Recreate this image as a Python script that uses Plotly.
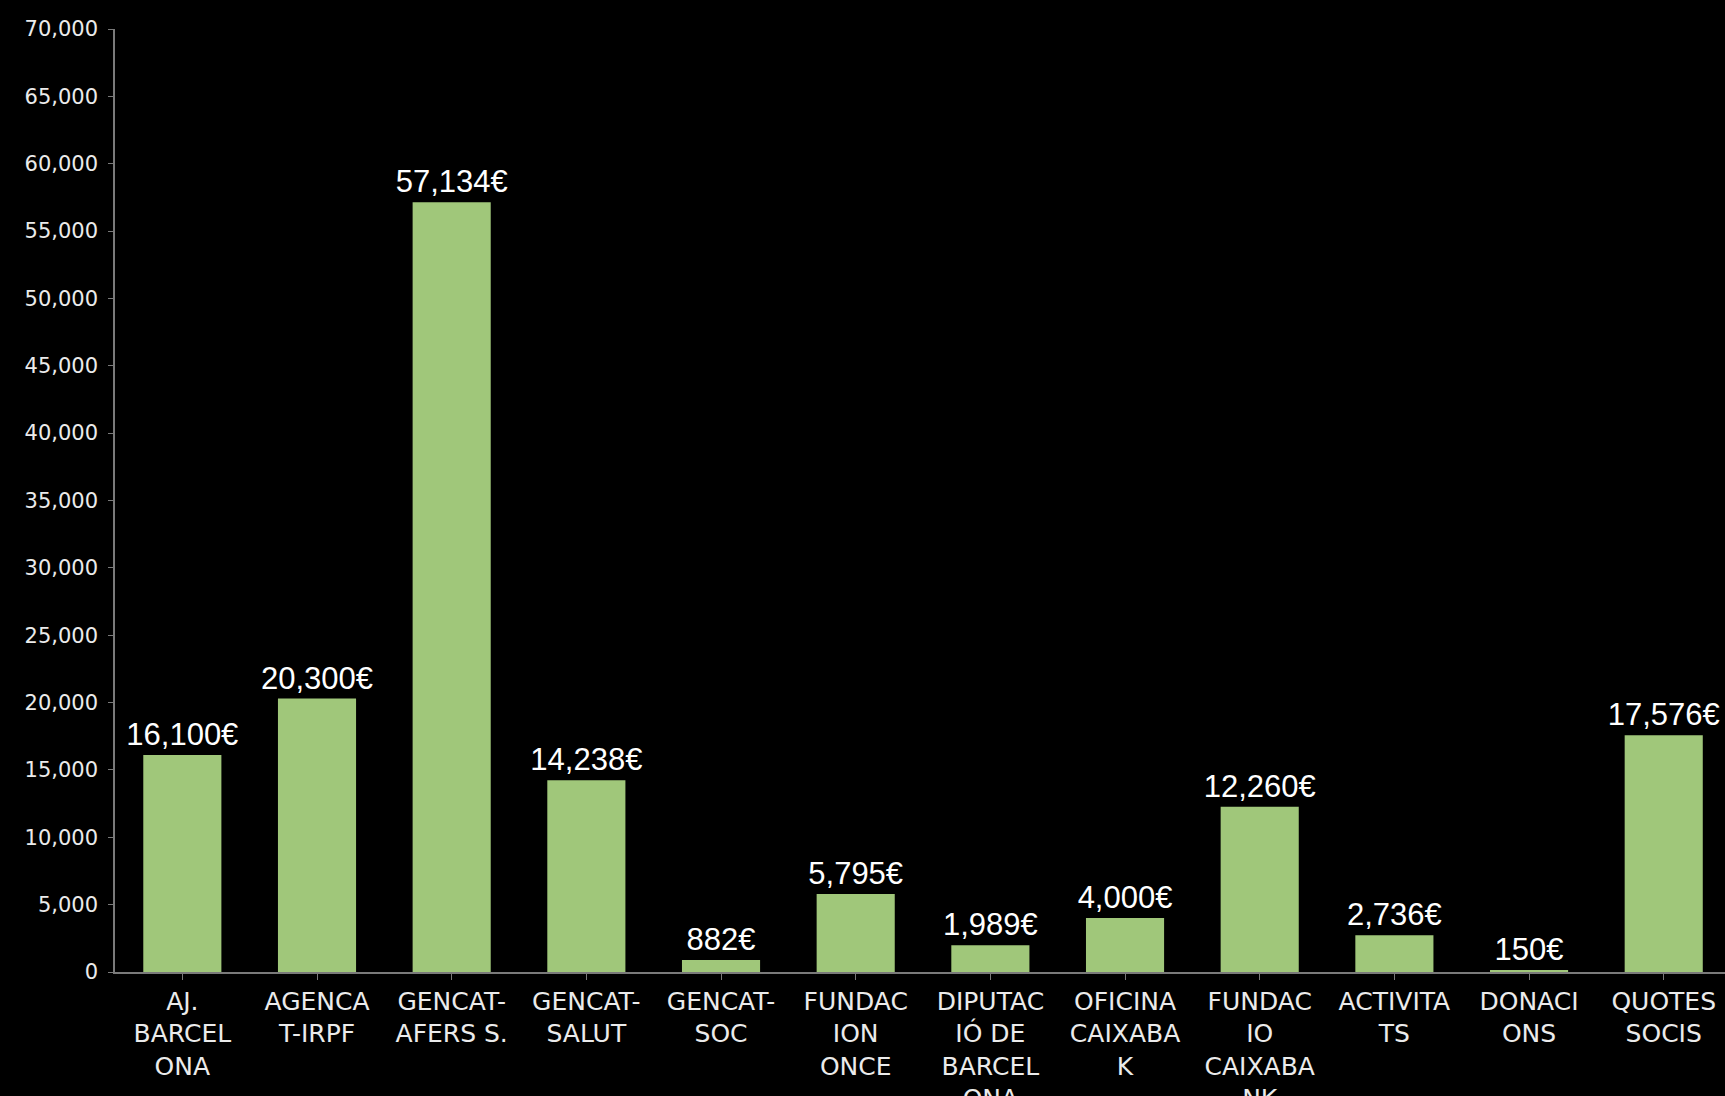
import plotly.graph_objects as go

categories = ["AJ.<br>BARCEL<br>ONA", "AGENCA<br>T-IRPF", "GENCAT-<br>AFERS S.", "GENCAT-<br>SALUT",
              "GENCAT-<br>SOC", "FUNDAC<br>ION<br>ONCE", "DIPUTAC<br>IÓ DE<br>BARCEL<br>ONA",
              "OFICINA<br>CAIXABA<br>K", "FUNDAC<br>IO<br>CAIXABA<br>NK", "ACTIVITA<br>TS",
              "DONACI<br>ONS", "QUOTES<br>SOCIS"]
values = [16100, 20300, 57134, 14238, 882, 5795, 1989, 4000, 12260, 2736, 150, 17576]
y_ticks = list(range(0, 70001, 5000))

labels = [f"{v:,}€" for v in values]

fig = go.Figure(go.Bar(
    x=list(range(len(categories))), y=values,
    marker=dict(color="#a0c77a", line=dict(width=0)),
    width=0.58,
    text=labels, textposition="outside", cliponaxis=False, constraintext="none",
    textfont=dict(family="Liberation Sans, Arial", size=31, color="#ffffff"),
))

fig.update_layout(
    width=1725, height=1096,
    paper_bgcolor="#000000", plot_bgcolor="#000000",
    margin=dict(l=115, r=0, t=29, b=124, autoexpand=False),
    showlegend=False,
)
fig.update_xaxes(
    tickmode="array", tickvals=list(range(len(categories))), ticktext=categories,
    range=[-0.5, 11.455], automargin=False,
    showgrid=False, zeroline=False,
    showline=True, linecolor="#7a7a7a", linewidth=1.5,
    ticks="outside", ticklen=6, tickcolor="#7a7a7a", tickwidth=1,
    tickfont=dict(family="DejaVu Sans", size=25, color="#ebebeb"),
    tickangle=0,
)
fig.update_yaxes(
    range=[0, 70000], tickvals=y_ticks, ticktext=[f"{t:,}" for t in y_ticks],
    automargin=False,
    showgrid=False, zeroline=False,
    showline=True, linecolor="#7a7a7a", linewidth=1.5,
    ticks="outside", ticklen=5, tickcolor="#7a7a7a", tickwidth=1,
    tickfont=dict(family="DejaVu Sans", size=21, color="#ebebeb"),
    ticklabelstandoff=6,
)

fig.write_html("out.html", config={"displayModeBar": False},
               post_script="document.body.style.margin='0';document.body.style.background='#000';")
